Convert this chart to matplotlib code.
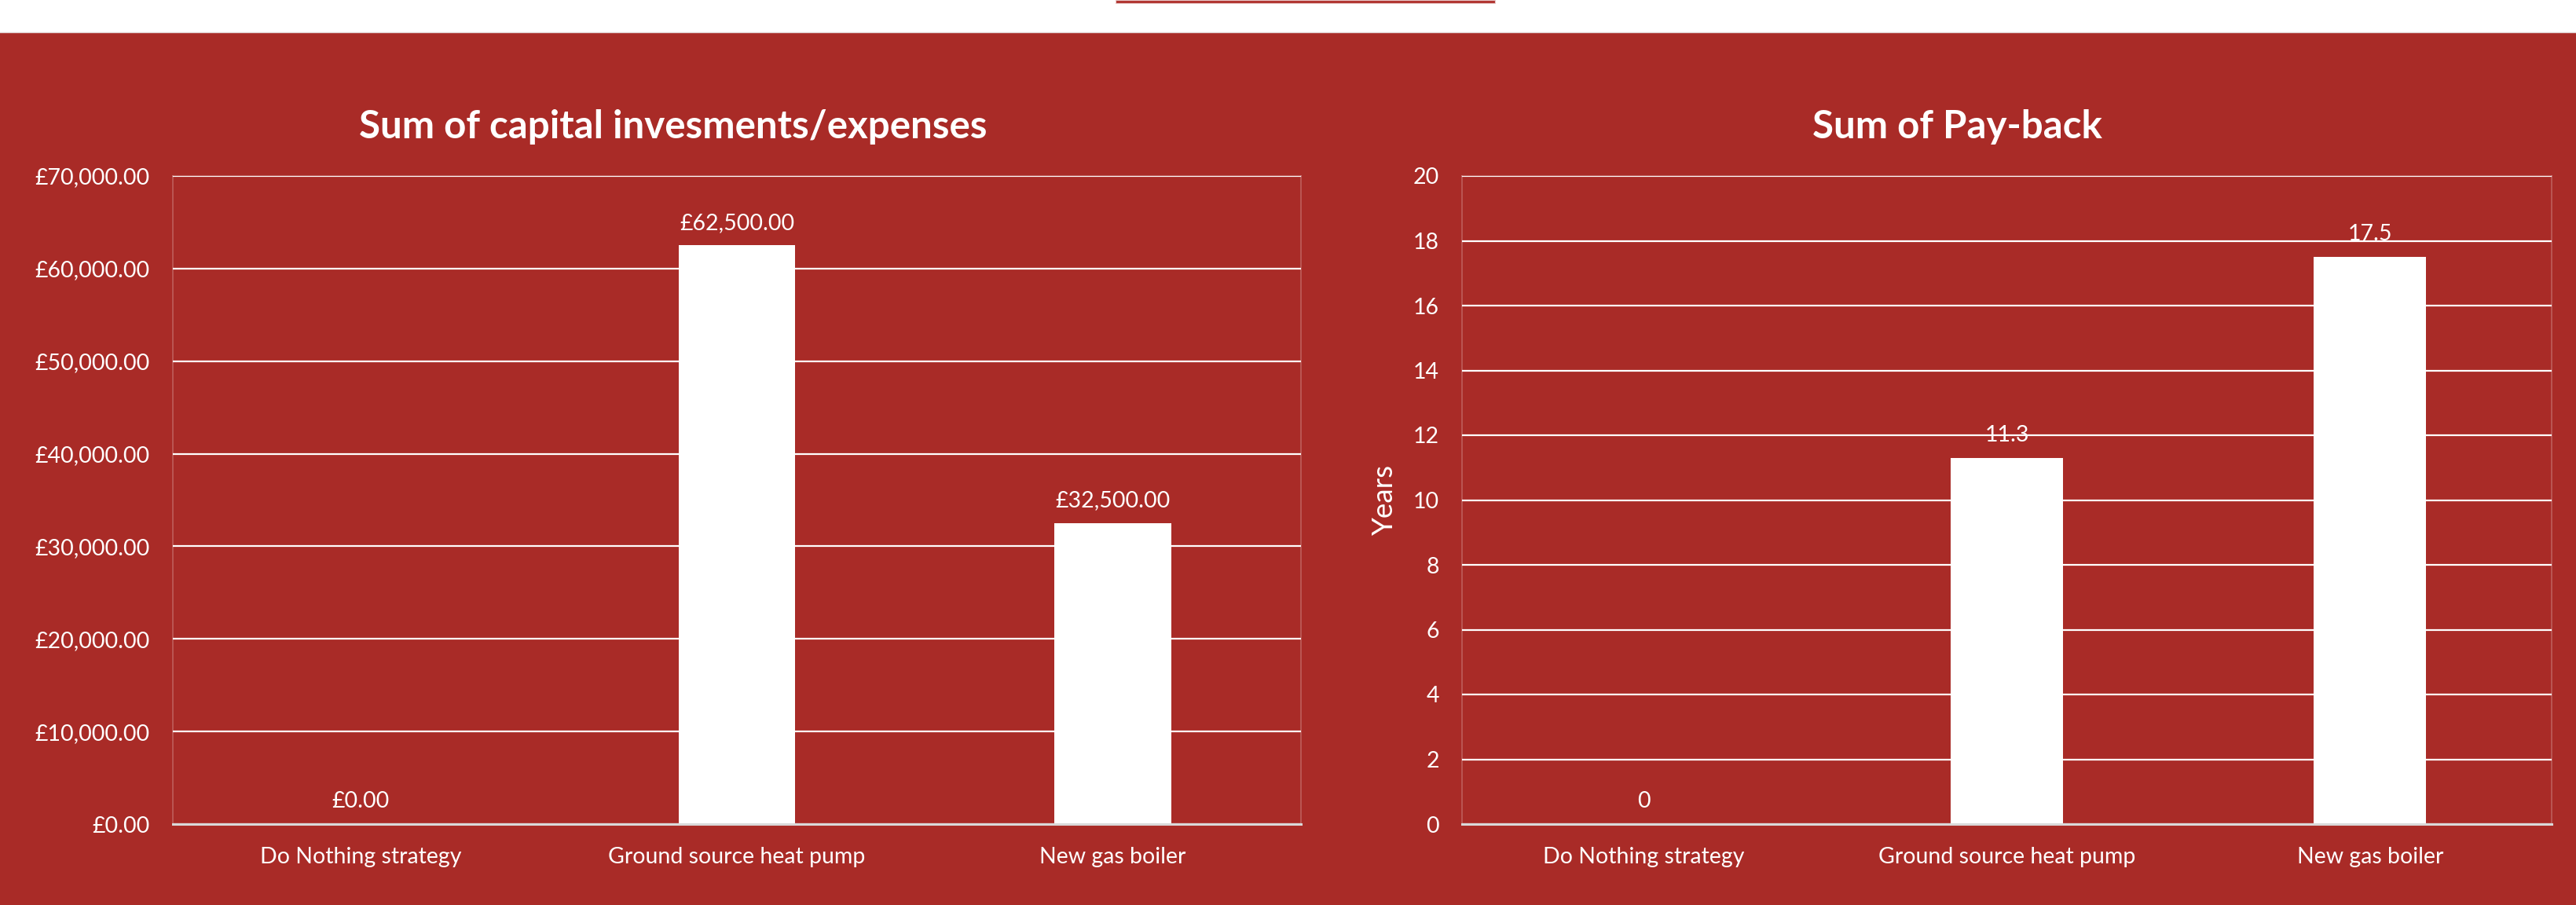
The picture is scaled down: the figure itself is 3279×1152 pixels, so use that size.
import matplotlib
matplotlib.use("Agg")
import matplotlib.pyplot as plt
from matplotlib.patches import Rectangle
from matplotlib.lines import Line2D
from matplotlib.ticker import FuncFormatter, MultipleLocator

plt.rcParams["font.family"] = ["Lato", "DejaVu Sans"]

# Data
categories = ["Do Nothing strategy", "Ground source heat pump", "New gas boiler"]
capital_costs = [0, 62500, 32500]
payback_years = [0, 11.3, 17.5]

BG = "#a92b27"
GRID = (1, 1, 1, 0.24)
W, H = 3280, 1152

fig = plt.figure(figsize=(W / 100, H / 100), dpi=100, facecolor=BG)

# white strip along the top, with the little tab
fig.patches.append(Rectangle((0, (H - 41) / H), 1, 41 / H, transform=fig.transFigure,
                             facecolor="white", edgecolor="none", zorder=-10))
fig.lines.append(Line2D([0, 1], [(H - 41) / H] * 2, transform=fig.transFigure,
                        color="#e6dcdc", lw=1.0, zorder=-9))
fig.patches.append(Rectangle((1420 / W, (H - 4) / H), 483 / W, 4 / H,
                             transform=fig.transFigure, facecolor="#b0332f",
                             edgecolor="#e8c9c8", lw=0.8, zorder=-9))


def style_axes(ax, ymax, step, fmt):
    ax.set_facecolor("none")
    ax.set_ylim(0, ymax)
    ax.set_xlim(-0.5, 2.5)
    ax.yaxis.set_major_locator(MultipleLocator(step))
    ax.yaxis.set_major_formatter(FuncFormatter(fmt))
    ax.grid(axis="y", color=GRID, lw=1.6, zorder=0)
    ax.set_axisbelow(True)
    for s in ("left", "right", "top"):
        ax.spines[s].set_color(GRID)
        ax.spines[s].set_linewidth(1.2)
    ax.spines["bottom"].set_color("#d9d9d9")
    ax.spines["bottom"].set_linewidth(2.2)
    ax.spines["bottom"].set_zorder(5)
    ax.tick_params(axis="both", length=0, colors="white", labelsize=20.5, pad=21)
    ax.set_xticks(range(len(categories)))
    ax.set_xticklabels(categories)


# left chart: capital costs
ax1 = fig.add_axes([220 / W, 103 / H, 1436 / W, 825 / H])
style_axes(ax1, 70000, 10000, lambda v, p: "£{:,.2f}".format(v))
ax1.bar(range(len(categories)), capital_costs, width=0.31, color="white", zorder=3)
for i, v in enumerate(capital_costs):
    ax1.annotate("£{:,.2f}".format(v), (i, v), xytext=(0, 15), textcoords="offset points",
                 ha="center", va="baseline", color="white", fontsize=20.5)
fig.text(857 / W, 1 - 162 / H, "Sum of capital invesments/expenses", ha="center",
         va="center", color="white", fontsize=35.5, fontweight="bold")

# right chart: pay-back
ax2 = fig.add_axes([1861 / W, 103 / H, 1387 / W, 825 / H])
style_axes(ax2, 20, 2, lambda v, p: "{:g}".format(v))
ax2.bar(range(len(categories)), payback_years, width=0.31, color="white", zorder=3)
for i, v in enumerate(payback_years):
    ax2.annotate("{:g}".format(v), (i, v), xytext=(0, 15), textcoords="offset points",
                 ha="center", va="baseline", color="white", fontsize=20.5)
ax2.set_ylabel("Years", color="white", fontsize=26.5, labelpad=14)
fig.text(2491 / W, 1 - 162 / H, "Sum of Pay-back", ha="center", va="center",
         color="white", fontsize=35.5, fontweight="bold")

fig.savefig("out.png", dpi=100, facecolor=fig.get_facecolor())
